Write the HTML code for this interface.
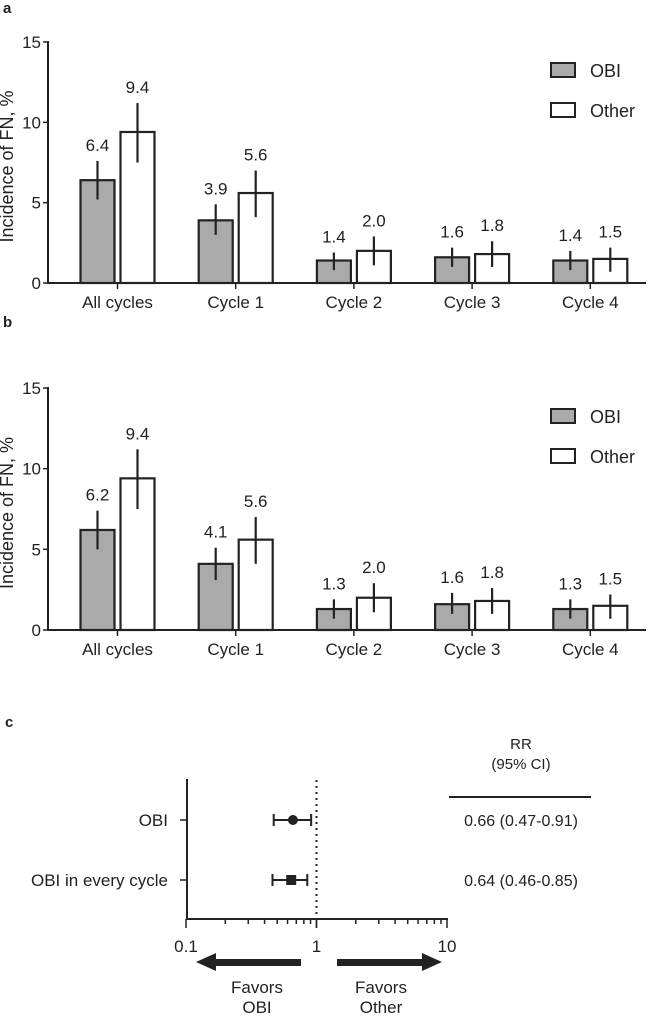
<!DOCTYPE html>
<html><head><meta charset="utf-8"><style>
body{margin:0;background:#fff;width:648px;height:1018px;overflow:hidden}
svg{font-family:"Liberation Sans",sans-serif;fill:#222}
</style></head><body>
<svg id="s" width="648" height="1018"></svg>
<script>
const categories=["All cycles","Cycle 1","Cycle 2","Cycle 3","Cycle 4"];
const aObi=[6.4,3.9,1.4,1.6,1.4];
const aObiLo=[5.2,3.0,0.8,1.0,0.8];
const aObiHi=[7.6,4.9,1.9,2.2,2.0];
const aOther=[9.4,5.6,2.0,1.8,1.5];
const aOtherLo=[7.5,4.1,1.1,1.0,0.7];
const aOtherHi=[11.2,7.0,2.9,2.6,2.2];
const bObi=[6.2,4.1,1.3,1.6,1.3];
const bObiLo=[5.0,3.1,0.7,1.0,0.7];
const bObiHi=[7.4,5.1,1.9,2.3,1.9];
const bOther=[9.4,5.6,2.0,1.8,1.5];
const bOtherLo=[7.5,4.1,1.1,1.0,0.7];
const bOtherHi=[11.2,7.0,2.9,2.6,2.2];
const yTicks=[0,5,10,15];
const forestLabels=["OBI","OBI in every cycle"];
const rr=[0.66,0.64];
const rrLo=[0.47,0.46];
const rrHi=[0.91,0.85];
const rrText=["0.66 (0.47-0.91)","0.64 (0.46-0.85)"];
const xTicksLog=[0.1,1,10];

const S=document.getElementById('s');const NS='http://www.w3.org/2000/svg';
function el(t,a,p){const e=document.createElementNS(NS,t);for(const k in a)e.setAttribute(k,a[k]);(p||S).appendChild(e);return e;}
function txt(x,y,s,a,p){const e=el('text',Object.assign({x:x,y:y},a||{}),p);e.textContent=s;return e;}

function barPanel(name,letter,letterY,base,top,obi,obiLo,obiHi,oth,othLo,othHi,legY){
  const g=el('g',{});
  
  
  const y=v=>base-(base-top)*v/15;
  const xc=i=>117.5+i*118.2;
  const l=txt(3,letterY,letter,{'font-size':15,'font-weight':'bold'},g);
  
  el('line',{x1:48,y1:top-1,x2:48,y2:base+1,stroke:'#222','stroke-width':2},g);
  el('line',{x1:47,y1:base,x2:646,y2:base,stroke:'#222','stroke-width':2},g);
  yTicks.forEach(t=>{el('line',{x1:43,x2:48,y1:y(t),y2:y(t),stroke:'#222','stroke-width':1.5},g);
    const tl=txt(41,y(t)+6,String(t),{'font-size':17,'text-anchor':'end'},g);
    });
  const yt=txt(0,0,'Incidence of FN, %',{'font-size':18,'text-anchor':'middle',transform:`translate(13,${(base+top)/2+4}) rotate(-90)`},g);
  
  categories.forEach((c,i)=>{
    const cx=xc(i);
    el('line',{x1:cx,x2:cx,y1:base,y2:base+6,stroke:'#222','stroke-width':1.5},g);
    const cl=txt(cx,base+25,c,{'font-size':17,'text-anchor':'middle'},g);
    
    [[obi,obiLo,obiHi,'#aaaaaa',cx-37],[oth,othLo,othHi,'#fff',cx+3]].forEach(([v,lo,hi,f,x0],k)=>{
      const r=el('rect',{x:x0,y:y(v[i]),width:34,height:base-y(v[i]),fill:f,stroke:'#222','stroke-width':2.2},g);
      
      el('line',{x1:x0+17,x2:x0+17,y1:y(lo[i]),y2:y(hi[i]),stroke:'#222','stroke-width':2.2},g);
      const vl=txt(x0+17,y(hi[i])-10,v[i].toFixed(1),{'font-size':17,'text-anchor':'middle'},g);
      
    });
  });
  [['OBI','#aaaaaa',legY],['Other','#fff',legY+40]].forEach(([n,f,ly])=>{
    const lg=el('g',{},g);
    
    el('rect',{x:551,y:ly-8,width:24,height:14,fill:f,stroke:'#222','stroke-width':2},lg);
    txt(590,ly+6,n,{'font-size':18},lg);
  });
}
barPanel('chart-a','a',13,283,42,aObi,aObiLo,aObiHi,aOther,aOtherLo,aOtherHi,71);
barPanel('chart-b','b',327,630,388,bObi,bObiLo,bObiHi,bOther,bOtherLo,bOtherHi,417);

const g=el('g',{});


const lx=v=>186+130.5*Math.log10(v/0.1);
const rowY=[820,880];
const lc=txt(5,727,'c',{'font-size':15,'font-weight':'bold'},g);

el('line',{x1:187,y1:779,x2:187,y2:920,stroke:'#222','stroke-width':2},g);
el('line',{x1:186,y1:919,x2:448,y2:919,stroke:'#222','stroke-width':2},g);
for(let d=0;d<2;d++)for(let m=1;m<=10;m++){const v=Math.pow(10,d-1)*m;
  el('line',{x1:lx(v),x2:lx(v),y1:919,y2:(m==1||m==10)?928:924,stroke:'#222','stroke-width':1.5},g);}
xTicksLog.forEach(t=>{const tl=txt(lx(t),952,String(t),{'font-size':17,'text-anchor':'middle'},g);
  });
el('line',{x1:lx(1),x2:lx(1),y1:780,y2:918,stroke:'#222','stroke-width':2,'stroke-dasharray':'2,4'},g);
forestLabels.forEach((n,i)=>{
  const yy=rowY[i];
  el('line',{x1:180,x2:187,y1:yy,y2:yy,stroke:'#222','stroke-width':1.5},g);
  const t=txt(168,yy+6,n,{'font-size':17,'text-anchor':'end'},g);
  
  el('line',{x1:lx(rrLo[i]),x2:lx(rrHi[i]),y1:yy,y2:yy,stroke:'#222','stroke-width':2},g);
  [rrLo[i],rrHi[i]].forEach(v=>el('line',{x1:lx(v),x2:lx(v),y1:yy-6,y2:yy+6,stroke:'#222','stroke-width':2},g));
  const mk=i==0?el('circle',{cx:lx(rr[i]),cy:yy,r:5,fill:'#222'},g):el('rect',{x:lx(rr[i])-5,y:yy-5,width:10,height:10,fill:'#222'},g);
  
  const rt=txt(521,yy+6,rrText[i],{'font-size':16,'text-anchor':'middle'},g);
  
});
const h1=txt(521,749,'RR',{'font-size':15,'text-anchor':'middle'},g);

const h2=txt(521,769,'(95% CI)',{'font-size':15,'text-anchor':'middle'},g);

el('line',{x1:449,x2:591,y1:797,y2:797,stroke:'#222','stroke-width':2},g);
const a1=el('polygon',{points:'196,962 216,953 216,959 301,959 301,966 216,966 216,971',fill:'#222'},g);

const a2=el('polygon',{points:'442,962 422,953 422,959 337,959 337,966 422,966 422,971',fill:'#222'},g);

[['Favors',257,993],['OBI',257,1013],['Favors',381,993],['Other',381,1013]].forEach(([s,x,yy])=>{
  const t=txt(x,yy,s,{'font-size':17,'text-anchor':'middle'},g);
  });
</script>
</body></html>
